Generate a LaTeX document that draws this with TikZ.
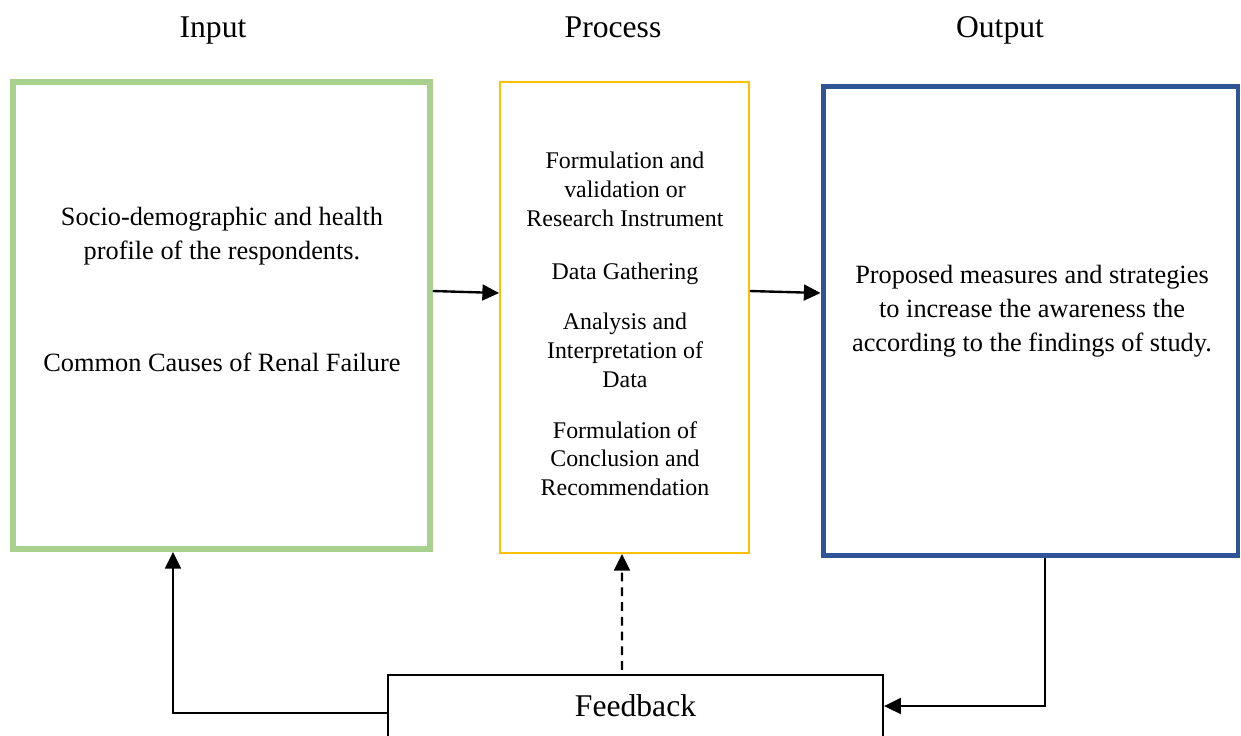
\documentclass[tikz,border=0pt]{standalone}
\usepackage{fontspec}
\setmainfont{Liberation Serif}
\usetikzlibrary{arrows.meta}

\definecolor{ingreen}{HTML}{A9D18E}
\definecolor{procgold}{HTML}{FFC000}
\definecolor{outblue}{HTML}{2F5597}

\begin{document}
\begin{tikzpicture}[x=0.02cm, y=-0.02cm,
	head/.style={font=\fontsize{18}{22}\selectfont},
	body/.style={align=center, font=\fontsize{15}{19.3}\selectfont},
	procbody/.style={align=center, font=\fontsize{13.6}{16.4}\selectfont},
	box/.style={draw, rectangle, inner sep=0pt},
	arr/.style={-{Triangle[length=9.5pt,width=9pt]}, line width=1.35pt}]
	\useasboundingbox (0,0) rectangle (1241,735);
	% column titles
	\node[head, anchor=base] (tin) at (213,37.5) {Input};
	\node[head, anchor=base] (tproc) at (613,37.5) {Process};
	\node[head, anchor=base] (tout) at (1000,37.5) {Output};
	% boxes
	\node[box, draw=ingreen, line width=3.4pt, minimum width=8.34cm, minimum height=9.34cm] (inbox) at (221.5,315.5) {};
	\node[box, draw=procgold, line width=1.1pt, minimum width=4.98cm, minimum height=9.42cm] (proc) at (624.5,317.5) {};
	\node[box, draw=outblue, line width=2.8pt, minimum width=8.3cm, minimum height=9.37cm] (out) at (1030.5,321) {};
	\node[box, line width=1.3pt, minimum width=9.9cm, minimum height=1.24cm, head] (fb) at (635.5,706) {Feedback};
	% box texts
	\node[body] (intxta) at (222,236.5) {Socio-demographic and health\\profile of the respondents.};
	\node[body] (intxtb) at (222,362) {Common Causes of Renal Failure};
	\node[procbody] (proctxt) at (625,324) {Formulation and\\validation or\\Research Instrument\\[14pt]
		Data Gathering\\[12pt]
		Analysis and\\Interpretation of\\Data\\[12.5pt]
		Formulation of\\Conclusion and\\Recommendation};
	\node[body] (outtxt) at (1032,311) {Proposed measures and strategies\\to increase the awareness the\\according to the findings of study.};
	% connectors
	\draw[arr] ([yshift=0.49cm]inbox.east) -- ([yshift=0.49cm]proc.west);
	\draw[arr] ([yshift=0.53cm]proc.east) -- ([yshift=0.56cm]out.west);
	\draw[arr] ([yshift=-0.14cm]fb.west) -| ([xshift=-0.97cm]inbox.south);
	\draw[arr] ([xshift=0.29cm]out.south) |- (fb.east);
	\draw[arr, dash pattern=on 5pt off 3.4pt] ([xshift=-0.27cm, yshift=0.08cm]fb.north) -- ([xshift=-0.05cm]proc.south);
\end{tikzpicture}
\end{document}
